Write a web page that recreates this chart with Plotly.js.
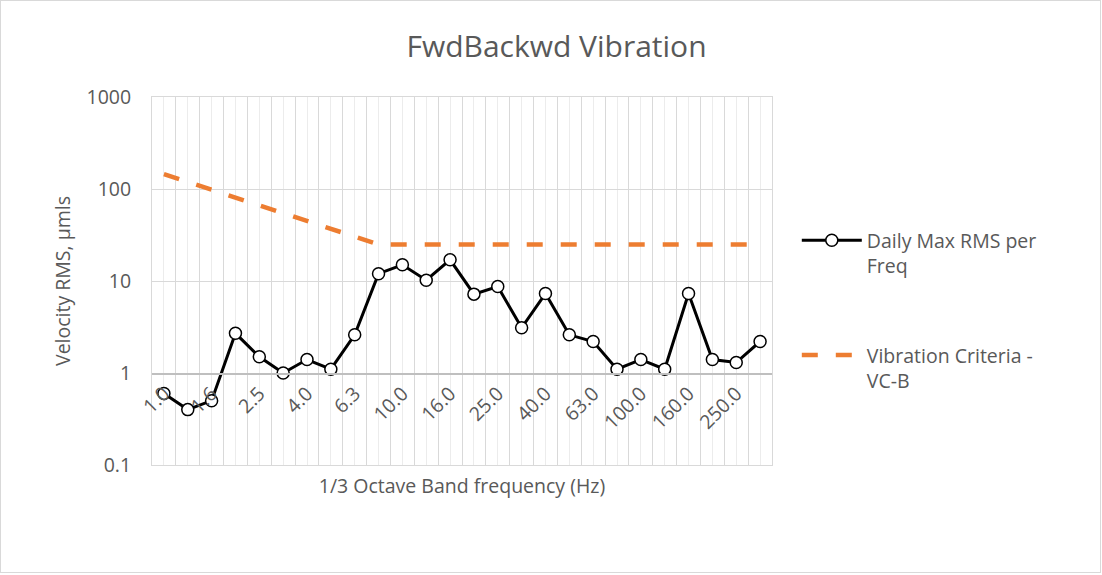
<!DOCTYPE html>
<html>
<head>
<meta charset="utf-8">
<script src="https://cdn.plot.ly/plotly-3.0.1.min.js"></script>
<style>
  body { margin: 0; background: #fff; }
  #chart { position: absolute; left: 0; top: 0; width: 1102px; height: 575px; }
  #frame { position: absolute; left: 0; top: 0; width: 1099px; height: 571px;
           border: 1px solid #d9d9d9; pointer-events: none; }
</style>
</head>
<body>
<div id="chart"></div>
<div id="frame"></div>
<script>
// 1/3 octave band centre frequencies (Hz)
var bands = ['1.0', '1.25', '1.6', '2.0', '2.5', '3.15', '4.0', '5.0', '6.3', '8.0',
             '10.0', '12.5', '16.0', '20.0', '25.0', '31.5', '40.0', '50.0', '63.0', '80.0',
             '100.0', '125.0', '160.0', '200.0', '250.0', '315.0'];

// daily max RMS velocity per band, um/s
var daily_max = [0.6, 0.4, 0.5, 2.7, 1.5, 1.0, 1.4, 1.1, 2.6, 12,
                 15, 10.2, 17, 7.2, 8.7, 3.1, 7.3, 2.6, 2.2, 1.1,
                 1.4, 1.1, 7.3, 1.4, 1.3, 2.2];

// VC-B criterion curve
var vc_b = [145, 119, 98, 80, 66, 54, 45, 37, 30, 25,
            25, 25, 25, 25, 25, 25, 25, 25, 25, 25,
            25, 25, 25, 25, 25, 25];

var y_ticks = [0.1, 1, 10, 100, 1000];

// every other band gets a label, like Excel's auto skip
var shown_bands = bands.filter((b, i) => i % 2 == 0);

var txt = '#595959';
var fnt = 'Open Sans, sans-serif';
var fs = 19.5;

var trace_daily = {
  x: bands,
  y: daily_max,
  name: 'Daily Max RMS per<br>Freq',
  type: 'scatter',
  mode: 'lines+markers',
  line: {color: '#000000', width: 3},
  marker: {symbol: 'circle', size: 12, color: '#ffffff', line: {color: '#000000', width: 1.5}},
  legend: 'legend'
};

var trace_vc = {
  x: bands,
  y: vc_b,
  name: 'Vibration Criteria -<br>VC-B',
  type: 'scatter',
  mode: 'lines',
  line: {color: '#ED7D31', width: 4.5, dash: '16px,18px'},
  legend: 'legend2'
};

// empty trace so the grid axis gets drawn
var grid_holder = {x: [], y: [], xaxis: 'x2', yaxis: 'y', type: 'scatter', mode: 'none',
                   showlegend: false, hoverinfo: 'skip'};

var data = [grid_holder, trace_vc, trace_daily];

var layout = {
  width: 1102,
  height: 575,
  margin: {l: 152, r: 330, t: 97, b: 110},
  paper_bgcolor: 'rgba(0,0,0,0)',
  plot_bgcolor: '#ffffff',
  font: {family: fnt, color: txt, size: fs},
  title: {text: 'FwdBackwd Vibration', font: {family: fnt, size: 30, color: txt},
          x: 0.505, xanchor: 'center', y: 0.92, yanchor: 'middle'},
  xaxis: {
    type: 'category',
    categoryorder: 'array',
    categoryarray: bands,
    range: [-0.5, bands.length - 0.5],
    tickmode: 'array',
    tickvals: shown_bands,
    ticktext: shown_bands,
    tickangle: -45,
    tickfont: {size: fs, color: txt},
    showgrid: false,
    showline: true,
    linecolor: '#bfbfbf',
    linewidth: 1.5,
    ticks: '',
    anchor: 'free',
    position: 0.25,
    zeroline: false
  },
  // grid only: band edges and band centres
  xaxis2: {
    type: 'linear',
    overlaying: 'x',
    anchor: 'y',
    range: [-0.5, bands.length - 0.5],
    tick0: -0.5,
    dtick: 1,
    showgrid: true,
    gridcolor: '#d9d9d9',
    gridwidth: 1,
    minor: {tick0: 0, dtick: 1, showgrid: true, gridcolor: '#ececec', gridwidth: 1},
    showticklabels: false,
    ticks: '',
    zeroline: false,
    showline: true,
    mirror: true,
    linecolor: '#d9d9d9',
    title: {text: '1/3 Octave Band frequency (Hz)', font: {size: fs, color: txt}, standoff: 14}
  },
  yaxis: {
    type: 'log',
    range: [-1, 3],
    tickmode: 'array',
    tickvals: y_ticks,
    ticktext: y_ticks.map(String),
    tickfont: {size: fs, color: txt},
    gridcolor: '#d9d9d9',
    showline: true,
    mirror: true,
    linecolor: '#d9d9d9',
    ticks: '',
    ticklabelstandoff: 16,
    zeroline: false,
    title: {text: 'Velocity RMS, µmls', font: {size: fs, color: txt}, standoff: 10}
  },
  legend: {
    x: 1.04, xanchor: 'left', y: 0.576, yanchor: 'middle',
    valign: 'top', bgcolor: 'rgba(0,0,0,0)', itemwidth: 60,
    font: {size: fs, color: txt}
  },
  legend2: {
    x: 1.04, xanchor: 'left', y: 0.264, yanchor: 'middle',
    valign: 'top', bgcolor: 'rgba(0,0,0,0)', itemwidth: 60,
    font: {size: fs, color: txt}
  },
  showlegend: true
};

Plotly.newPlot('chart', data, layout, {displayModeBar: false, staticPlot: true});
</script>
</body>
</html>
